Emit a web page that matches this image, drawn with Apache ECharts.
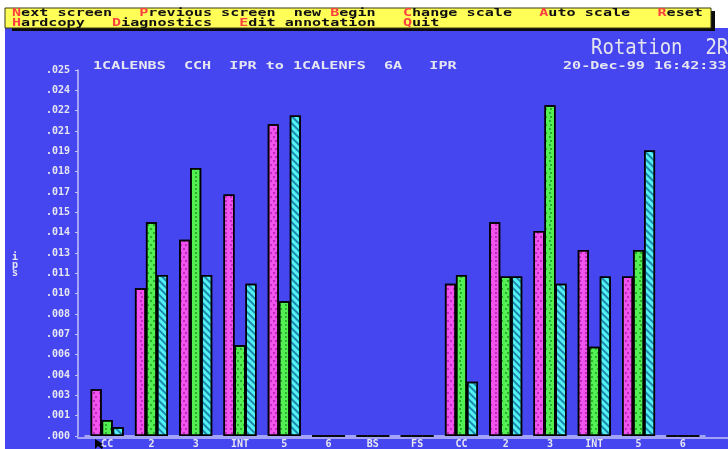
<!DOCTYPE html>
<html>
<head>
<meta charset="utf-8">
<script src="https://cdn.jsdelivr.net/npm/echarts@6/dist/echarts.min.js"></script>
<style>
  html, body { margin: 0; padding: 0; background: #ffffff; }
  #chart { width: 728px; height: 449px; }
</style>
</head>
<body>
<div id="chart"></div>
<script>
// Shaft rotation amplitude per pick-up position, two measurement sets
const categories = ['CC', '2', '3', 'INT', '5', '6', 'BS', 'FS', 'CC', '2', '3', 'INT', '5', '6'];
const seriesMagenta = [0.0032, 0.0101, 0.0134, 0.0165, 0.0213, 0, 0, 0, 0.0104, 0.0146, 0.0140, 0.0127, 0.0109, 0];
const seriesGreen   = [0.0011, 0.0146, 0.0183, 0.0062, 0.0092, 0, 0, 0, 0.0110, 0.0109, 0.0226, 0.0061, 0.0127, 0];
const seriesCyan    = [0.0006, 0.0110, 0.0110, 0.0104, 0.0219, 0, 0, 0, 0.0037, 0.0109, 0.0104, 0.0109, 0.0195, 0];
const yTickLabels = ['.000', '.001', '.003', '.004', '.006', '.007', '.008', '.010', '.011',
                     '.013', '.014', '.015', '.017', '.018', '.019', '.021', '.022', '.024', '.025'];
const yMax = 0.025;
const yStep = yMax / (yTickLabels.length - 1);

const menuRow1 = [['N', 'ext screen   '], ['P', 'revious screen  '], ['', 'new '], ['B', 'egin   '],
                  ['C', 'hange scale   '], ['A', 'uto scale   '], ['R', 'eset']];
const menuRow2 = [['H', 'ardcopy   '], ['D', 'iagnostics   '], ['E', 'dit annotation   '], ['Q', 'uit']];
const subtitle = '1CALENBS  CCH  IPR to 1CALENFS  6A   IPR';
const stamp = '20-Dec-99 16:42:33';
const title = 'Rotation  2R';

const MONO = '"DejaVu Sans Mono", monospace';
const TXT = '#e6e6f2';
const AXIS = '#c4c4fa';
const CHAR_SCALE = 1.51; // widen the 10px mono glyphs to a ~9px character cell

function menuText(row) {
  return row.map(([k, rest]) => (k ? '{r|' + k + '}' : '') + '{k|' + rest.replace(/ /g, '\u00a0') + '}').join('');
}

function smallText(x, y, text, extra) {
  return Object.assign({
    type: 'text', x: x, y: y, scaleX: CHAR_SCALE, z: 10,
    style: { text: text, fill: TXT, font: 'bold 10px ' + MONO, verticalAlign: 'middle' }
  }, extra || {});
}

function decalDots(color) {
  return { symbol: 'circle', symbolSize: 1, color: color,
           dashArrayX: [[1.6, 3], [0, 2.3, 1.6, 0.7]], dashArrayY: [1.6, 1.4] };
}

const chart = echarts.init(document.getElementById('chart'), null, { renderer: 'canvas' });

const barBase = {
  type: 'bar', barWidth: 11, barGap: '0%',
};

chart.setOption({
  backgroundColor: '#4646f0',
  animation: false,
  grid: { left: 85, right: 23, top: 70, bottom: 11 },
  xAxis: {
    type: 'category',
    data: categories,
    axisLine: { lineStyle: { color: AXIS, width: 1.5 } },
    axisTick: { show: false },
    axisLabel: { color: TXT, fontFamily: MONO, fontWeight: 'bold', fontSize: 10, margin: 3 }
  },
  yAxis: {
    type: 'value', min: 0, max: yMax, interval: yStep, offset: 7,
    name: 'i\np\ns', nameLocation: 'middle', nameGap: 60, nameRotate: 0,
    nameTextStyle: { color: TXT, fontFamily: MONO, fontWeight: 'bold', fontSize: 10, lineHeight: 8, verticalAlign: 'top' },
    splitLine: { show: false },
    axisLine: { show: true, lineStyle: { color: AXIS, width: 1.5 } },
    axisTick: { show: true, length: 3, lineStyle: { color: AXIS } },
    axisLabel: {
      color: TXT, fontFamily: MONO, fontWeight: 'bold', fontSize: 10, margin: 8,
      formatter: v => yTickLabels[Math.round(v / yStep)]
    }
  },
  series: [
    Object.assign({}, barBase, {
      name: 'a', data: seriesMagenta,
      itemStyle: { color: '#f252ee', borderColor: '#000', borderWidth: 1.5, decal: decalDots('rgba(120,0,120,0.6)') }
    }),
    Object.assign({}, barBase, {
      name: 'b', data: seriesGreen,
      itemStyle: { color: '#52f052', borderColor: '#000', borderWidth: 1.5, decal: decalDots('rgba(0,90,0,0.6)') }
    }),
    Object.assign({}, barBase, {
      name: 'c', data: seriesCyan,
      itemStyle: { color: '#52f2f2', borderColor: '#000', borderWidth: 1.5,
        decal: { symbol: 'rect', symbolSize: 1, color: 'rgba(0,80,140,0.65)',
                 dashArrayX: [1, 0], dashArrayY: [1.3, 2.2], rotation: Math.PI / 4 } }
    })
  ],
  graphic: [
    // screen frame: white margins, menu box with its shadow
    { type: 'rect', shape: { x: 0, y: 0, width: 728, height: 28 }, style: { fill: '#ffffff' }, z: 1 },
    { type: 'rect', shape: { x: 0, y: 0, width: 5, height: 449 }, style: { fill: '#ffffff' }, z: 1 },
    { type: 'rect', shape: { x: 12, y: 11, width: 703, height: 20 }, style: { fill: '#0c0c10' }, z: 2 },
    { type: 'rect', shape: { x: 5, y: 8, width: 706, height: 20 }, style: { fill: '#ffff58', stroke: '#3a3a10', lineWidth: 1 }, z: 3 },
    {
      type: 'text', x: 12, y: 13.5, scaleX: CHAR_SCALE, z: 10,
      style: { text: menuText(menuRow1), verticalAlign: 'middle', font: 'bold 10px ' + MONO,
        rich: { r: { fill: '#ff4040', font: 'bold 10px ' + MONO }, k: { fill: '#101010', font: 'bold 10px ' + MONO } } }
    },
    {
      type: 'text', x: 12, y: 23, scaleX: CHAR_SCALE, z: 10,
      style: { text: menuText(menuRow2), verticalAlign: 'middle', font: 'bold 10px ' + MONO,
        rich: { r: { fill: '#ff4040', font: 'bold 10px ' + MONO }, k: { fill: '#101010', font: 'bold 10px ' + MONO } } }
    },
    // titles
    { type: 'text', x: 591, y: 48, scaleY: 1.15, z: 10,
      style: { text: title, fill: '#e4e4ee', font: '19px ' + MONO, verticalAlign: 'middle' } },
    smallText(93, 66, subtitle.replace(/ /g, '\u00a0')),
    smallText(563, 66, stamp),
    // baseline continues under the axis to the screen edge
    { type: 'line', shape: { x1: 77, y1: 438, x2: 728, y2: 438 }, style: { stroke: AXIS, lineWidth: 1.5 }, z: 0 },
    // mouse pointer
    { type: 'polygon', shape: { points: [[95, 439], [95, 449], [98, 446], [102, 449], [103, 447], [100, 445], [103, 444]] },
      style: { fill: '#000' }, z: 10 }
  ]
});
</script>
</body>
</html>
